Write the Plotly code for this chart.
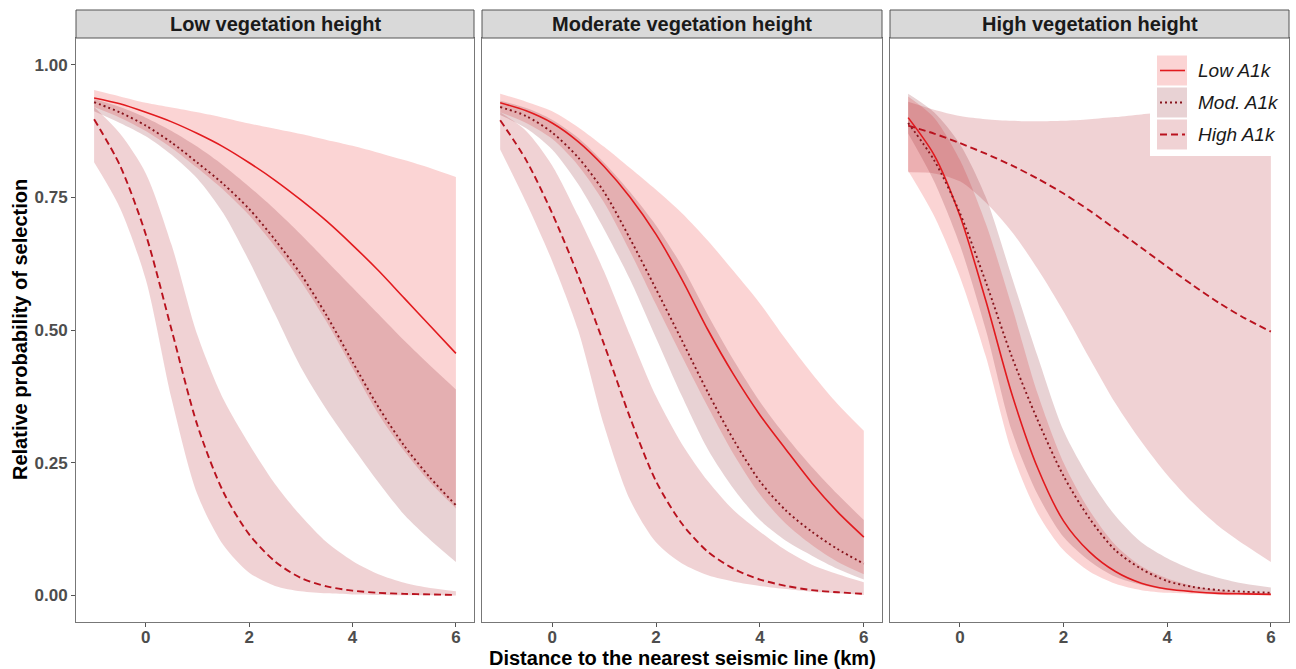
import plotly.graph_objects as go

# ---------------- data ----------------
X = [-1, -0.5, 0, 0.5, 1, 1.5, 2, 2.5, 3, 3.5, 4, 4.5, 5, 5.5, 6]
PANELS = ["Low vegetation height", "Moderate vegetation height", "High vegetation height"]
SERIES = ["Low A1k", "Mod. A1k", "High A1k"]
X_TICKS = [0, 2, 4, 6]
X_TICK_LABELS = ["0", "2", "4", "6"]
Y_TICKS = [0, 0.25, 0.5, 0.75, 1.0]
Y_TICK_LABELS = ["0.00", "0.25", "0.50", "0.75", "1.00"]

# Panel 1: Low vegetation height
p1_low_mean = [0.937, 0.926, 0.910, 0.892, 0.870, 0.845, 0.815, 0.782, 0.745, 0.705, 0.660, 0.612, 0.560, 0.508, 0.456]
p1_low_lo = [0.920, 0.900, 0.875, 0.843, 0.805, 0.764, 0.716, 0.657, 0.592, 0.515, 0.428, 0.342, 0.272, 0.213, 0.164]
p1_low_hi = [0.952, 0.940, 0.928, 0.919, 0.910, 0.900, 0.889, 0.879, 0.869, 0.858, 0.847, 0.834, 0.820, 0.805, 0.788]
p1_mod_mean = [0.929, 0.910, 0.885, 0.853, 0.815, 0.775, 0.728, 0.670, 0.605, 0.527, 0.440, 0.355, 0.282, 0.222, 0.170]
p1_mod_lo = [0.912, 0.890, 0.865, 0.830, 0.785, 0.720, 0.630, 0.530, 0.430, 0.350, 0.280, 0.213, 0.152, 0.105, 0.063]
p1_mod_hi = [0.935, 0.920, 0.900, 0.875, 0.845, 0.810, 0.770, 0.727, 0.680, 0.630, 0.580, 0.530, 0.480, 0.433, 0.388]
p1_high_mean = [0.897, 0.810, 0.680, 0.500, 0.320, 0.195, 0.115, 0.064, 0.033, 0.017, 0.009, 0.005, 0.003, 0.002, 0.001]
p1_high_lo = [0.816, 0.730, 0.595, 0.370, 0.190, 0.095, 0.043, 0.018, 0.008, 0.004, 0.002, 0.001, 0.0005, 0.0002, 0.0001]
p1_high_hi = [0.920, 0.870, 0.795, 0.660, 0.490, 0.370, 0.285, 0.210, 0.150, 0.100, 0.065, 0.040, 0.024, 0.014, 0.008]

# Panel 2: Moderate vegetation height
p2_low_mean = [0.928, 0.913, 0.890, 0.855, 0.808, 0.750, 0.680, 0.595, 0.500, 0.415, 0.340, 0.275, 0.212, 0.157, 0.110]
p2_low_lo = [0.910, 0.890, 0.860, 0.810, 0.740, 0.648, 0.548, 0.450, 0.355, 0.265, 0.190, 0.135, 0.095, 0.063, 0.040]
p2_low_hi = [0.945, 0.930, 0.912, 0.882, 0.845, 0.805, 0.764, 0.720, 0.668, 0.610, 0.550, 0.482, 0.418, 0.360, 0.310]
p2_mod_mean = [0.920, 0.903, 0.872, 0.825, 0.760, 0.672, 0.577, 0.480, 0.382, 0.292, 0.215, 0.160, 0.120, 0.087, 0.060]
p2_mod_lo = [0.905, 0.880, 0.840, 0.775, 0.690, 0.595, 0.485, 0.375, 0.275, 0.200, 0.142, 0.103, 0.075, 0.050, 0.030]
p2_mod_hi = [0.932, 0.918, 0.896, 0.862, 0.815, 0.760, 0.697, 0.620, 0.528, 0.442, 0.365, 0.300, 0.242, 0.190, 0.142]
p2_high_mean = [0.895, 0.820, 0.720, 0.603, 0.473, 0.335, 0.215, 0.135, 0.082, 0.050, 0.030, 0.018, 0.010, 0.006, 0.003]
p2_high_lo = [0.840, 0.740, 0.630, 0.500, 0.320, 0.180, 0.100, 0.060, 0.038, 0.026, 0.018, 0.012, 0.007, 0.004, 0.001]
p2_high_hi = [0.910, 0.875, 0.810, 0.715, 0.610, 0.490, 0.375, 0.285, 0.215, 0.160, 0.120, 0.085, 0.058, 0.040, 0.025]

# Panel 3: High vegetation height
p3_low_mean = [0.900, 0.830, 0.715, 0.555, 0.380, 0.240, 0.140, 0.082, 0.045, 0.023, 0.012, 0.007, 0.004, 0.003, 0.002]
p3_low_lo = [0.800, 0.715, 0.600, 0.450, 0.270, 0.155, 0.085, 0.045, 0.022, 0.010, 0.005, 0.003, 0.001, 0.0005, 0.0003]
p3_low_hi = [0.940, 0.900, 0.820, 0.700, 0.545, 0.380, 0.250, 0.160, 0.095, 0.055, 0.032, 0.018, 0.010, 0.006, 0.004]
p3_mod_mean = [0.890, 0.820, 0.720, 0.590, 0.450, 0.330, 0.225, 0.145, 0.085, 0.050, 0.027, 0.016, 0.010, 0.007, 0.005]
p3_mod_lo = [0.870, 0.780, 0.660, 0.500, 0.310, 0.190, 0.110, 0.065, 0.035, 0.020, 0.010, 0.007, 0.004, 0.003, 0.002]
p3_mod_hi = [0.945, 0.910, 0.850, 0.750, 0.600, 0.450, 0.310, 0.220, 0.150, 0.100, 0.070, 0.048, 0.033, 0.022, 0.015]
p3_high_mean = [0.885, 0.870, 0.852, 0.832, 0.810, 0.785, 0.757, 0.725, 0.690, 0.655, 0.619, 0.584, 0.551, 0.522, 0.497]
p3_high_lo = [0.797, 0.795, 0.780, 0.740, 0.685, 0.615, 0.535, 0.447, 0.362, 0.290, 0.227, 0.174, 0.130, 0.095, 0.063]
p3_high_hi = [0.930, 0.915, 0.903, 0.897, 0.894, 0.893, 0.894, 0.897, 0.901, 0.906, 0.911, 0.916, 0.921, 0.926, 0.931]

DATA = [
    [(p1_low_mean, p1_low_lo, p1_low_hi), (p1_mod_mean, p1_mod_lo, p1_mod_hi), (p1_high_mean, p1_high_lo, p1_high_hi)],
    [(p2_low_mean, p2_low_lo, p2_low_hi), (p2_mod_mean, p2_mod_lo, p2_mod_hi), (p2_high_mean, p2_high_lo, p2_high_hi)],
    [(p3_low_mean, p3_low_lo, p3_low_hi), (p3_mod_mean, p3_mod_lo, p3_mod_hi), (p3_high_mean, p3_high_lo, p3_high_hi)],
]

# ---------------- styles ----------------
W, H = 1296, 669
ML, MR, MT, MB = 76, 7, 38, 47
PW = W - ML - MR
PH = H - MT - MB
PANEL_PX = [(76, 474), (482, 882), (890, 1289)]

FILLS = ["rgba(235,40,40,0.2)", "rgba(140,30,40,0.2)", "rgba(180,30,40,0.2)"]
LINE_COLORS = ["rgb(226,26,30)", "rgb(135,20,28)", "rgb(185,18,30)"]
DASHES = ["solid", "2px,3px", "7px,4px"]
WIDTHS = [1.6, 1.9, 1.9]
SMOOTH = 0.8
FONT = "Liberation Sans, Arial, sans-serif"


def pxx(px):
    return (px - ML) / PW


def pxy(py):
    return (MT + PH - py) / PH


fig = go.Figure()

for p in range(3):
    xa = "x" if p == 0 else f"x{p + 1}"
    ya = "y" if p == 0 else f"y{p + 1}"
    # ribbons
    for s in range(3):
        mean, lo, hi = DATA[p][s]
        fig.add_trace(go.Scatter(x=X, y=lo, mode="lines",
                                 line=dict(width=0, shape="spline", smoothing=SMOOTH),
                                 xaxis=xa, yaxis=ya, showlegend=False, hoverinfo="skip"))
        fig.add_trace(go.Scatter(x=X, y=hi, mode="lines",
                                 line=dict(width=0, shape="spline", smoothing=SMOOTH),
                                 fill="tonexty", fillcolor=FILLS[s],
                                 xaxis=xa, yaxis=ya, showlegend=False, hoverinfo="skip"))
    # lines
    for s in range(3):
        mean, lo, hi = DATA[p][s]
        fig.add_trace(go.Scatter(x=X, y=mean, mode="lines", name=SERIES[s],
                                 line=dict(color=LINE_COLORS[s], width=WIDTHS[s], dash=DASHES[s],
                                           shape="spline", smoothing=SMOOTH),
                                 xaxis=xa, yaxis=ya, showlegend=False))

axis_common = dict(
    showgrid=False, zeroline=False, showline=True, mirror=True, automargin=False,
    linecolor="#777777", linewidth=1, ticks="outside", ticklen=4, tickwidth=1, tickcolor="#555555",
    tickfont=dict(family=FONT, size=17, color="#4D4D4D", weight="bold"),
)

layout = dict(
    width=W, height=H, margin=dict(l=ML, r=MR, t=MT, b=MB, pad=0, autoexpand=False),
    plot_bgcolor="white", paper_bgcolor="white", showlegend=False,
    font=dict(family=FONT),
)

for p in range(3):
    l, r = PANEL_PX[p]
    dom = [max(0, pxx(l)), min(1, pxx(r))]
    kx = "xaxis" if p == 0 else f"xaxis{p + 1}"
    ky = "yaxis" if p == 0 else f"yaxis{p + 1}"
    anchor_y = "y" if p == 0 else f"y{p + 1}"
    anchor_x = "x" if p == 0 else f"x{p + 1}"
    xa = dict(axis_common)
    xa.update(range=[-1.35, 6.35], domain=dom, anchor=anchor_y,
              tickvals=X_TICKS, ticktext=X_TICK_LABELS, ticklabelstandoff=-4)
    ya = dict(axis_common)
    ya.update(range=[-0.05, 1.05], domain=[0, 1], anchor=anchor_x,
              tickvals=Y_TICKS, ticktext=Y_TICK_LABELS, showticklabels=(p == 0),
              ticks="outside" if p == 0 else "")
    layout[kx] = xa
    layout[ky] = ya

fig.update_layout(**layout)

shapes = []
annotations = []

# facet strips
for p in range(3):
    l, r = PANEL_PX[p]
    shapes.append(dict(type="rect", xref="paper", yref="paper",
                       x0=pxx(l), x1=pxx(r), y0=pxy(38), y1=pxy(10),
                       fillcolor="#D9D9D9", line=dict(color="#555555", width=1), layer="above"))
    annotations.append(dict(xref="paper", yref="paper", x=(pxx(l) + pxx(r)) / 2, y=pxy(24),
                            text=PANELS[p], showarrow=False, xanchor="center", yanchor="middle",
                            font=dict(family=FONT, size=20, color="#1A1A1A", weight="bold")))

# axis titles
annotations.append(dict(xref="paper", yref="paper", x=0.5, y=pxy(658),
                        text="Distance to the nearest seismic line (km)", showarrow=False,
                        xanchor="center", yanchor="middle",
                        font=dict(family=FONT, size=20, color="black", weight="bold")))
annotations.append(dict(xref="paper", yref="paper", x=pxx(20), y=0.5,
                        text="Relative probability of selection", showarrow=False, textangle=-90,
                        xanchor="center", yanchor="middle",
                        font=dict(family=FONT, size=20, color="black", weight="bold")))

# legend (inside the third panel, top right)
shapes.append(dict(type="rect", xref="paper", yref="paper",
                   x0=pxx(1150), x1=pxx(1286), y0=pxy(156), y1=pxy(49),
                   fillcolor="white", line=dict(width=0), layer="above"))
row_centers = [70.5, 102.5, 134.5]
for s in range(3):
    cy = row_centers[s]
    shapes.append(dict(type="rect", xref="paper", yref="paper",
                       x0=pxx(1157), x1=pxx(1187), y0=pxy(cy + 15), y1=pxy(cy - 15),
                       fillcolor=FILLS[s], line=dict(width=0), layer="above"))
    shapes.append(dict(type="line", xref="paper", yref="paper",
                       x0=pxx(1160), x1=pxx(1185), y0=pxy(cy), y1=pxy(cy),
                       line=dict(color=LINE_COLORS[s], width=WIDTHS[s], dash=DASHES[s]), layer="above"))
    annotations.append(dict(xref="paper", yref="paper", x=pxx(1196), y=pxy(cy),
                            text=f"<i>{SERIES[s]}</i>", showarrow=False, xanchor="left", yanchor="middle",
                            font=dict(family=FONT, size=19, color="#1A1A1A")))

fig.update_layout(shapes=shapes, annotations=annotations)

# remove the browser's default page margin so the figure sits at the window origin
fig.write_html(
    "out.html",
    config={"displayModeBar": False},
    post_script="document.body.style.margin='0px';document.body.style.overflow='hidden';",
)
